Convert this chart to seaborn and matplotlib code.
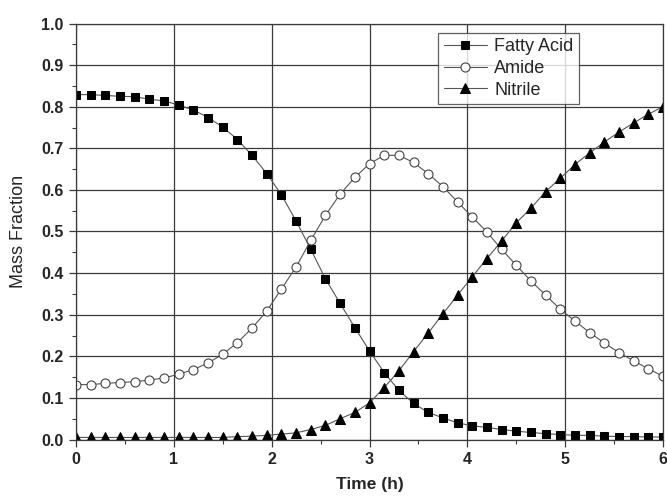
import numpy as np
import pandas as pd
import matplotlib
matplotlib.use("Agg")
import matplotlib.pyplot as plt
from matplotlib.ticker import MultipleLocator
import seaborn as sns

# sampling times (h), one marker every 0.15 h
time_h = np.round(np.arange(41) * 0.15, 2)

fatty_acid = [0.829, 0.829, 0.827, 0.825, 0.824, 0.818, 0.814, 0.804, 0.792, 0.774,
              0.751, 0.721, 0.683, 0.639, 0.588, 0.525, 0.457, 0.386, 0.327, 0.269,
              0.213, 0.161, 0.118, 0.087, 0.065, 0.052, 0.040, 0.033, 0.029, 0.024,
              0.020, 0.017, 0.014, 0.012, 0.010, 0.010, 0.008, 0.007, 0.007, 0.006,
              0.006]
amide = [0.132, 0.132, 0.135, 0.137, 0.139, 0.143, 0.148, 0.157, 0.168, 0.184,
         0.205, 0.233, 0.268, 0.309, 0.362, 0.415, 0.479, 0.539, 0.590, 0.630,
         0.663, 0.683, 0.683, 0.666, 0.639, 0.608, 0.571, 0.535, 0.499, 0.457,
         0.419, 0.381, 0.347, 0.313, 0.285, 0.257, 0.232, 0.209, 0.189, 0.170,
         0.152]
nitrile = [0.005, 0.005, 0.005, 0.005, 0.005, 0.005, 0.005, 0.005, 0.005, 0.005,
           0.005, 0.007, 0.008, 0.010, 0.013, 0.016, 0.024, 0.034, 0.050, 0.065,
           0.088, 0.125, 0.165, 0.211, 0.256, 0.302, 0.347, 0.391, 0.435, 0.477,
           0.521, 0.556, 0.596, 0.628, 0.661, 0.689, 0.715, 0.739, 0.761, 0.782,
           0.800]

df = pd.DataFrame({"t": time_h, "Fatty Acid": fatty_acid,
                   "Amide": amide, "Nitrile": nitrile})

sns.set_style("white")
plt.rcParams["font.family"] = ["Liberation Sans", "DejaVu Sans"]

fig = plt.figure(figsize=(6.67, 5.0), dpi=100)
ax = fig.add_axes([0.114, 0.121, 0.880, 0.832])

line_col = "#555555"
sns.lineplot(data=df, x="t", y="Fatty Acid", ax=ax, color=line_col, linewidth=0.8,
             marker="s", markersize=5.5, markerfacecolor="black",
             markeredgecolor="black", label="Fatty Acid")
sns.lineplot(data=df, x="t", y="Amide", ax=ax, color=line_col, linewidth=0.8,
             marker="o", markersize=6.5, markerfacecolor="white",
             markeredgecolor="#444444", markeredgewidth=0.8, label="Amide")
sns.lineplot(data=df, x="t", y="Nitrile", ax=ax, color=line_col, linewidth=0.8,
             marker="^", markersize=7, markerfacecolor="black",
             markeredgecolor="black", label="Nitrile")

ax.set_xlim(0, 6)
ax.set_ylim(0, 1.0)
ax.xaxis.set_major_locator(MultipleLocator(1))
ax.xaxis.set_minor_locator(MultipleLocator(0.5))
ax.yaxis.set_major_locator(MultipleLocator(0.1))
ax.yaxis.set_minor_locator(MultipleLocator(0.05))
ax.set_yticklabels([f"{v:.1f}" for v in ax.get_yticks()])
ax.grid(True, which="major", color="#3a3a3a", linewidth=0.9)
ax.set_axisbelow(True)
for s in ax.spines.values():
    s.set_color("#3a3a3a")
    s.set_linewidth(0.9)

ax.tick_params(which="major", direction="out", length=5, width=0.9,
               color="#3a3a3a", labelsize=11.5, pad=4, bottom=True, left=True)
ax.tick_params(which="minor", direction="out", length=3, width=0.8,
               color="#3a3a3a", bottom=True, left=True)
for lab in ax.get_xticklabels() + ax.get_yticklabels():
    lab.set_fontweight("bold")

ax.set_xlabel("Time (h)", fontsize=12.5, fontweight="bold", labelpad=7)
ax.set_ylabel("Mass Fraction", fontsize=13, labelpad=10)

leg = ax.legend(loc="upper left", bbox_to_anchor=(0.617, 0.977), fontsize=13,
                frameon=True, fancybox=False, handlelength=2.4, handletextpad=0.4,
                borderpad=0.3, labelspacing=0.25, borderaxespad=0)
leg.get_frame().set_edgecolor("#3a3a3a")
leg.get_frame().set_linewidth(0.9)

fig.savefig("out.png", dpi=100)
